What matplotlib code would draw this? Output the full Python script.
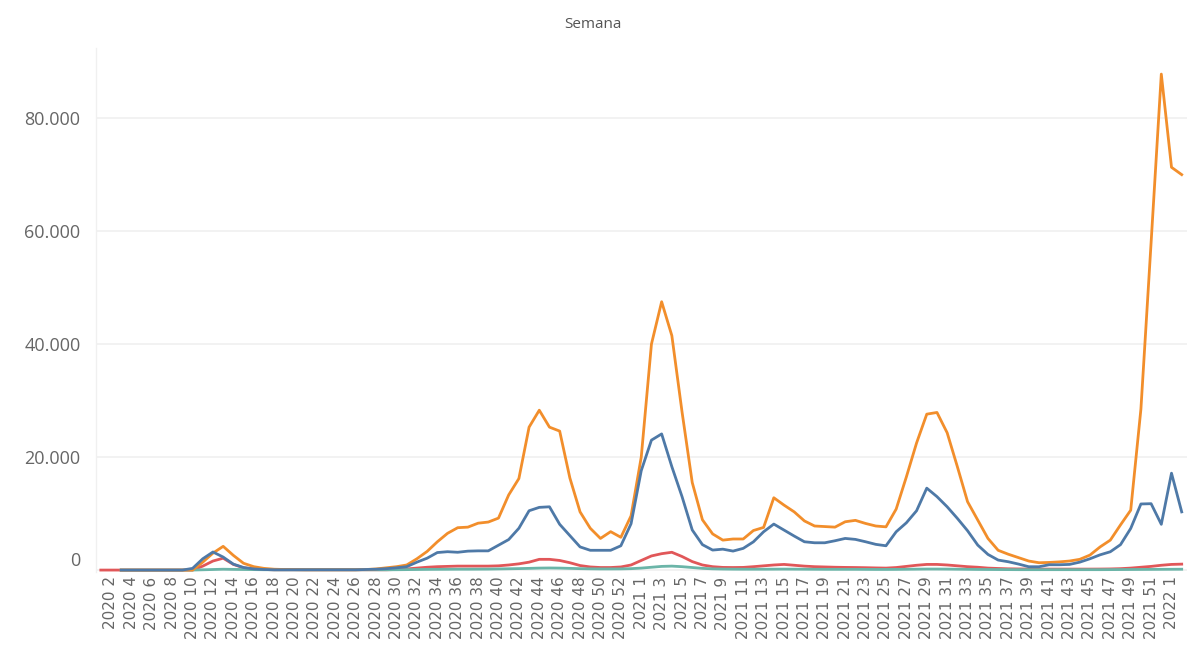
import matplotlib
matplotlib.use("Agg")
import matplotlib.pyplot as plt
import numpy as np
from matplotlib.ticker import FuncFormatter

nan = np.nan

# Week categories: 2020 1..53, 2021 1..52, 2022 1..2
weeks = ([f"2020 {w}" for w in range(1, 54)] +
         [f"2021 {w}" for w in range(1, 53)] +
         [f"2022 {w}" for w in range(1, 3)])

orange = [nan, nan, 0, 0, 0, 0, 0, 0, 0, 0,
          1400, 3000, 4200, 2600, 1200, 600, 300, 150, 100, 80,
          50, 50, 50, 50, 50, 50, 100, 200, 400, 600,
          900, 2000, 3300, 5000, 6500, 7500, 7600, 8300, 8500, 9200,
          13300, 16200, 25300, 28300, 25300, 24600, 16300, 10300, 7400, 5600,
          6800, 5800, 9600, 20000, 40000, 47500, 41500, 28000, 15500, 8900,
          6400, 5300, 5500, 5500, 7000, 7550, 12800, 11500, 10300, 8700,
          7800, 7700, 7600, 8550, 8800, 8250, 7800, 7650, 10800, 16500,
          22500, 27600, 27900, 24300, 18300, 12100, 8850, 5600, 3500, 2800,
          2200, 1600, 1300, 1350, 1450, 1600, 1900, 2650, 4100, 5300,
          8000, 10600, 28500, 58000, 87800, 71300, 70000]

blue = [nan, nan, 0, 0, 0, 0, 0, 0, 0, 300,
        2000, 3200, 2300, 1050, 450, 200, 100, 50, 50, 50,
        50, 50, 50, 50, 50, 50, 100, 150, 250, 400,
        600, 1400, 2100, 3100, 3250, 3150, 3350, 3400, 3400, 4400,
        5400, 7400, 10500, 11100, 11200, 8100, 6100, 4100, 3500, 3500,
        3500, 4300, 8200, 17600, 23000, 24100, 18300, 13000, 7100, 4500,
        3540, 3700, 3360, 3840, 5000, 6780, 8140, 7080, 6020, 5010,
        4830, 4830, 5190, 5600, 5430, 5010, 4550, 4300, 6780, 8370,
        10500, 14500, 13000, 11200, 9150, 6960, 4420, 2770, 1770, 1470,
        1060, 590, 590, 940, 940, 1000, 1400, 2000, 2700, 3240,
        4500, 7370, 11700, 11750, 8100, 17150, 10300]

red = [0, 0, 0, 0, 0, 0, 0, 0, 0, 0,
       700, 1600, 2100, 1000, 400, 200, 100, 50, 50, 50,
       50, 50, 50, 50, 50, 50, 50, 50, 50, 100,
       200, 350, 500, 600, 650, 700, 700, 700, 700, 750,
       900, 1100, 1400, 1900, 1900, 1700, 1300, 800, 550, 450,
       450, 550, 900, 1700, 2500, 2900, 3150, 2400, 1500, 900,
       600, 470, 450, 470, 600, 750, 900, 1000, 850, 700,
       600, 550, 500, 470, 450, 420, 380, 350, 450, 650,
       850, 1000, 1000, 900, 750, 600, 500, 350, 280, 220,
       200, 180, 170, 170, 170, 170, 170, 170, 180, 200,
       250, 350, 500, 650, 850, 1000, 1050]

teal = [nan, nan, 0, 0, 0, 0, 0, 0, 0, 0,
        50, 100, 150, 120, 100, 80, 60, 50, 50, 50,
        50, 50, 50, 50, 50, 50, 50, 50, 50, 60,
        80, 100, 120, 130, 140, 150, 150, 160, 170, 200,
        230, 260, 300, 350, 370, 350, 300, 250, 220, 200,
        200, 210, 250, 350, 500, 650, 700, 600, 450, 300,
        220, 180, 160, 150, 150, 150, 160, 170, 160, 150,
        140, 130, 130, 130, 130, 120, 110, 110, 120, 140,
        160, 180, 180, 170, 150, 130, 110, 100, 90, 80,
        70, 70, 70, 70, 70, 70, 70, 70, 70, 80,
        90, 100, 110, 120, 130, 140, 150]

yticks = [0, 20000, 40000, 60000, 80000]

fig = plt.figure(figsize=(11.91, 6.5), dpi=100)
ax = fig.add_axes([95.7 / 1191, 0.1195, (1186.8 - 95.7) / 1191, 0.926 - 0.1195])

x = np.arange(len(weeks))
lw = 2.0
ax.plot(x, red, color="#E15759", lw=lw, solid_joinstyle="round", zorder=2)
ax.plot(x, teal, color="#6BB5A8", lw=lw, solid_joinstyle="round", zorder=3)
ax.plot(x, orange, color="#F28E2B", lw=lw, solid_joinstyle="round", zorder=4)
ax.plot(x, blue, color="#4E79A7", lw=lw, solid_joinstyle="round", zorder=5)

ax.set_xlim(-0.5, len(weeks) - 0.5)
ax.set_ylim(-400, 92400)

ax.set_yticks(yticks)
ax.yaxis.set_major_formatter(FuncFormatter(lambda v, p: f"{int(v):,}".replace(",", ".")))
ax.tick_params(axis="y", length=0, pad=11, labelsize=13, labelcolor="#666666")
for lbl in ax.get_yticklabels():
    lbl.set_fontfamily("Open Sans")
ax.get_yticklabels()[0].set_va("bottom")

ax.set_xticks(x[1::2])
ax.set_xticklabels(weeks[1::2], rotation=90, fontsize=11, color="#666666",
                   family="DejaVu Sans", va="top", ha="center")
ax.tick_params(axis="x", length=0, pad=3)

ax.grid(axis="y", color="#f0f0f0", lw=1.2)
ax.set_axisbelow(True)
for s in ["top", "right", "bottom"]:
    ax.spines[s].set_visible(False)
ax.spines["left"].set_color("#f0f0f0")
ax.spines["left"].set_linewidth(1.0)

fig.text(593 / 1191, 1 - 24 / 650, "Semana", ha="center", va="center",
         fontsize=11, color="#555555", family="Open Sans")

fig.savefig("out.png", dpi=100)
